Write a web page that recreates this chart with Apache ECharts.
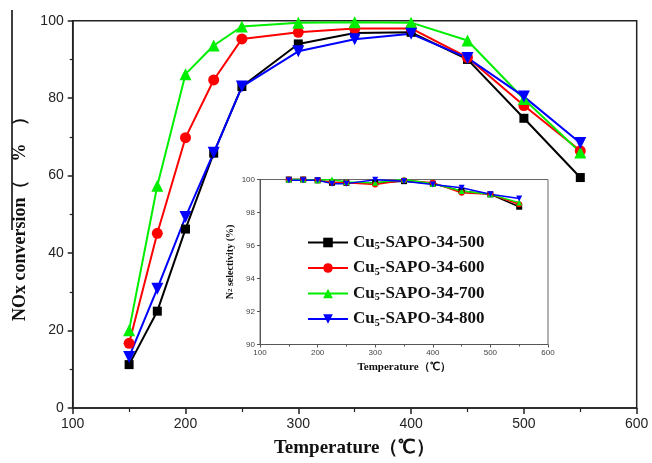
<!DOCTYPE html>
<html>
<head>
<meta charset="utf-8">
<script src="https://cdn.jsdelivr.net/npm/echarts@6/dist/echarts.min.js"></script>
<style>
  html, body { margin: 0; padding: 0; background: #fff; }
  #chart { width: 652px; height: 463px; }
</style>
</head>
<body>
<div id="chart"></div>
<script>
// Reaction temperatures (°C)
const temperatures = [150, 175, 200, 225, 250, 300, 350, 400, 450, 500, 550];

// Catalyst samples (Cu5-SAPO-34 calcined at different temperatures)
const sampleSuffixes = ['500', '600', '700', '800'];
const seriesNames = ['Cu5-SAPO-34-500', 'Cu5-SAPO-34-600', 'Cu5-SAPO-34-700', 'Cu5-SAPO-34-800'];

// NOx conversion (%)
const conv500 = [11.2, 25.0, 46.2, 65.8, 83.0, 94.0, 96.8, 97.0, 90.0, 74.8, 59.5];
const conv600 = [16.7, 45.1, 69.8, 84.7, 95.3, 97.0, 98.0, 98.0, 90.5, 78.1, 66.4];
const conv700 = [20.1, 57.4, 86.2, 93.6, 98.5, 99.5, 99.6, 99.5, 94.9, 79.8, 66.0];
const conv800 = [13.2, 30.8, 49.3, 65.9, 83.0, 92.1, 95.2, 96.6, 90.4, 80.4, 68.4];

// N2 selectivity (%)
const sel500 = [100, 100, 99.95, 99.8, 99.8, 99.8, 99.9, 99.75, 99.3, 99.1, 98.35];
const sel600 = [100, 100, 99.95, 99.85, 99.8, 99.7, 99.95, 99.8, 99.2, 99.1, 98.5];
const sel700 = [100, 100, 99.95, 100, 99.85, 99.8, 100, 99.75, 99.3, 99.1, 98.6];
const sel800 = [99.95, 99.95, 99.95, 99.75, 99.75, 99.98, 99.9, 99.7, 99.5, 99.1, 98.85];

// Axis ticks
const mainXTicks = [100, 200, 300, 400, 500, 600];
const mainYTicks = [0, 20, 40, 60, 80, 100];
const insetYTicks = [90, 92, 94, 96, 98, 100];

const colors = ['#000000', '#ff0000', '#00ee00', '#0000ff'];
const symbols = ['rect', 'circle', 'triangle', 'triangle'];
const rotations = [0, 0, 0, 180];
const mainSizes = [9, 11, 12, 12];

const pair = (ys) => temperatures.map((t, i) => [t, ys[i]]);
const convData = [conv500, conv600, conv700, conv800];
const selData = [sel500, sel600, sel700, sel800];

const serifBold = { fontFamily: '"Liberation Serif", "Times New Roman", serif', fontWeight: 'bold', color: '#111' };
const sans = '"Liberation Sans", Arial, sans-serif';

const series = [];
convData.forEach((ys, k) => {
  series.push({
    name: seriesNames[k], type: 'line', xAxisIndex: 0, yAxisIndex: 0,
    data: pair(ys), symbol: symbols[k], symbolRotate: rotations[k], symbolSize: mainSizes[k],
    clip: false,
    lineStyle: { color: colors[k], width: 2 },
    itemStyle: { color: colors[k] }
  });
});
selData.forEach((ys, k) => {
  series.push({
    name: seriesNames[k], type: 'line', xAxisIndex: 1, yAxisIndex: 1,
    data: pair(ys), symbol: symbols[k], symbolRotate: rotations[k], symbolSize: 6,
    clip: false,
    lineStyle: { color: colors[k], width: 1.5 },
    itemStyle: { color: colors[k] }
  });
});

const chart = echarts.init(document.getElementById('chart'), null, { renderer: 'canvas' });
chart.setOption({
  backgroundColor: '#ffffff',
  animation: false,
  graphic: [{
    type: 'line', shape: { x1: 12, y1: 10, x2: 12, y2: 230 },
    style: { stroke: '#000', lineWidth: 1.5 }
  }],
  grid: [
    { left: 72.7, top: 20.7, right: 15.3, bottom: 49, show: true, borderColor: '#222', borderWidth: 1.5 },
    { left: 260, top: 179.5, width: 288, height: 165, show: true, borderColor: '#666', borderWidth: 1, backgroundColor: '#fff' }
  ],
  legend: {
    data: seriesNames,
    orient: 'vertical',
    left: 302, top: 229,
    itemWidth: 40, itemHeight: 12, itemGap: 8,
    symbolRotate: 'inherit',
    formatter: (name) => {
      const idx = seriesNames.indexOf(name);
      return '{a|Cu}{s|5}{a|-SAPO-34-' + sampleSuffixes[idx] + '}';
    },
    textStyle: {
      rich: {
        a: Object.assign({ fontSize: 17 }, serifBold),
        s: Object.assign({ fontSize: 10, verticalAlign: 'bottom', padding: [8, 0, 0, 0] }, serifBold)
      }
    }
  },
  xAxis: [
    {
      gridIndex: 0, type: 'value', min: 100, max: 600, interval: 100,
      name: 'Temperature（℃）', nameLocation: 'middle', nameGap: 31,
      nameTextStyle: Object.assign({ fontSize: 19 }, serifBold),
      axisLine: { lineStyle: { color: '#222', width: 1.5 } },
      axisTick: { inside: false, length: 6, lineStyle: { color: '#222', width: 1.5 } },
      minorTick: { show: true, splitNumber: 2, length: 4, lineStyle: { color: '#222', width: 1.2 } },
      axisLabel: { fontSize: 14, color: '#222', fontFamily: sans, margin: 9, formatter: (v) => mainXTicks.includes(v) ? String(v) : '' },
      splitLine: { show: false }
    },
    {
      gridIndex: 1, type: 'value', min: 100, max: 600, interval: 100,
      name: 'Temperature（℃）', nameLocation: 'middle', nameGap: 17,
      nameTextStyle: Object.assign({ fontSize: 11 }, serifBold),
      axisLine: { lineStyle: { color: '#555', width: 1 } },
      axisTick: { length: 3, lineStyle: { color: '#555' } },
      minorTick: { show: true, splitNumber: 2, length: 2, lineStyle: { color: '#555' } },
      axisLabel: { fontSize: 8, color: '#444', fontFamily: sans, margin: 4 },
      splitLine: { show: false }
    }
  ],
  yAxis: [
    {
      gridIndex: 0, type: 'value', min: 0, max: 100, interval: 20,
      name: 'NOx conversion（　%　）', nameLocation: 'middle', nameGap: 37,
      nameTextStyle: Object.assign({ fontSize: 18 }, serifBold),
      axisLine: { show: true, lineStyle: { color: '#222', width: 1.5 } },
      axisTick: { show: true, length: 5, lineStyle: { color: '#222', width: 1.5 } },
      minorTick: { show: true, splitNumber: 2, length: 3, lineStyle: { color: '#222', width: 1.2 } },
      axisLabel: { fontSize: 14, color: '#222', fontFamily: sans, margin: 9, formatter: (v) => mainYTicks.includes(v) ? String(v) : '' },
      splitLine: { show: false }
    },
    {
      gridIndex: 1, type: 'value', min: 90, max: 100, interval: 2,
      name: 'N{sub|2} selectivity (%)', nameLocation: 'middle', nameGap: 25,
      nameTextStyle: Object.assign({ fontSize: 10, rich: { sub: Object.assign({ fontSize: 7 }, serifBold) } }, serifBold),
      axisLine: { show: true, lineStyle: { color: '#555', width: 1 } },
      axisTick: { show: true, length: 3, lineStyle: { color: '#555' } },
      axisLabel: { fontSize: 8, color: '#444', fontFamily: sans, margin: 5, formatter: (v) => insetYTicks.includes(v) ? String(v) : '' },
      splitLine: { show: false }
    }
  ],
  series: series
});
</script>
</body>
</html>
